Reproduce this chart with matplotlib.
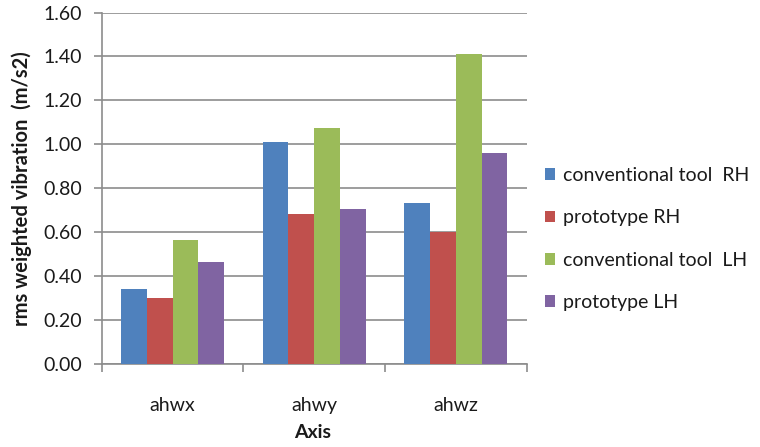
import matplotlib
matplotlib.use("Agg")
import matplotlib.pyplot as plt
from matplotlib.patches import Patch
import numpy as np

plt.rcParams['font.family'] = ['Lato', 'DejaVu Sans']

categories = ["ahwx", "ahwy", "ahwz"]
series_names = ["conventional tool  RH", "prototype RH", "conventional tool  LH", "prototype LH"]
conv_rh = [0.343, 1.009, 0.731]
proto_rh = [0.302, 0.682, 0.602]
conv_lh = [0.564, 1.072, 1.413]
proto_lh = [0.463, 0.707, 0.961]
series_values = [conv_rh, proto_rh, conv_lh, proto_lh]
colors = ["#4F81BD", "#C0504D", "#9BBB59", "#8064A2"]
yticks = [0.0, 0.2, 0.4, 0.6, 0.8, 1.0, 1.2, 1.4, 1.6]

fig = plt.figure(figsize=(7.6, 4.47), dpi=100)
ax = fig.add_axes([101.7 / 760, 1 - 364 / 447, 425 / 760, 351.5 / 447])

x = np.arange(len(categories))
w = 1 / 5.5
for i, (vals, col) in enumerate(zip(series_values, colors)):
    ax.bar(x + (i - 1.5) * w, vals, width=w, color=col, edgecolor='none', zorder=3)

ax.set_xlim(-0.5, 2.5)
ax.set_ylim(0, 1.6)
ax.set_yticks(yticks)
ax.set_yticklabels([f"{v:.2f}" for v in yticks])
ax.yaxis.grid(True, color='#8c8c8c', linewidth=1.2, zorder=0)

# category boundary ticks on the x axis, labels centred in each slot
ax.set_xticks([-0.5, 0.5, 1.5, 2.5])
ax.set_xticklabels([])
ax.set_xticks(x, minor=True)
ax.set_xticklabels(categories, minor=True)
ax.tick_params(axis='x', which='minor', length=0, pad=24, labelsize=14, labelcolor='#1a1a1a')
ax.tick_params(axis='x', which='major', length=6, width=1.2, color='#8c8c8c', direction='out')
ax.tick_params(axis='y', length=6, width=1.2, color='#8c8c8c', direction='out', pad=8,
               labelsize=14, labelcolor='#1a1a1a')

for s in ['top', 'right']:
    ax.spines[s].set_visible(False)
for s in ['left', 'bottom']:
    ax.spines[s].set_color('#8c8c8c')
    ax.spines[s].set_linewidth(1.2)

fig.text(22 / 760, 1 - 189 / 447, "rms weighted vibration  (m/s2)", rotation=90,
         ha='center', va='center', fontsize=14.5, fontweight='bold', color='#1a1a1a')
fig.text(313 / 760, 1 - 433 / 447, "Axis", ha='center', va='center',
         fontsize=14, fontweight='bold', color='#1a1a1a')

handles = [Patch(facecolor=c, edgecolor='none') for c in colors]
fig.legend(handles, series_names, loc='center left', bbox_to_anchor=(535 / 760, 1 - 239 / 447),
           frameon=False, fontsize=14, handlelength=0.55, handleheight=0.55,
           handletextpad=0.4, labelspacing=1.3, borderpad=0, labelcolor='#1a1a1a')

fig.savefig("out.png", dpi=100)
